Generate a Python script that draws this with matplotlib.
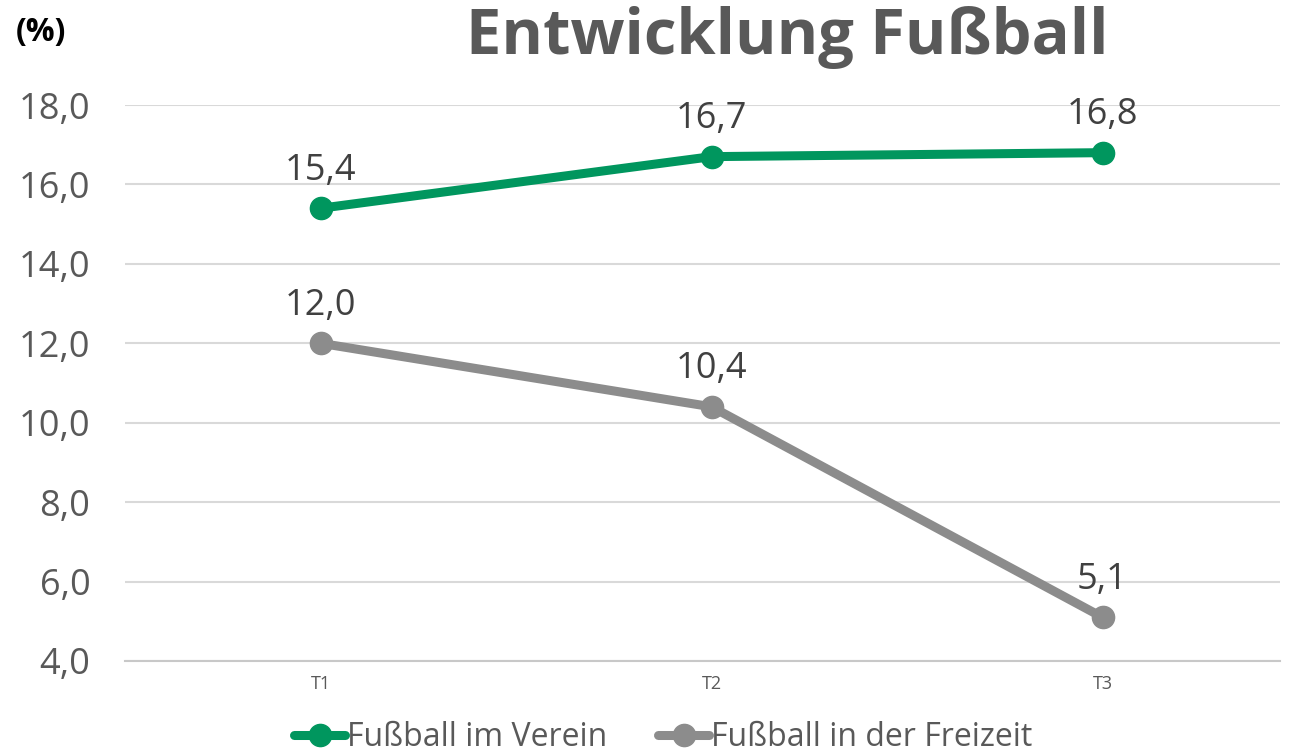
import matplotlib.pyplot as plt

# data
kategorien = ['T1', 'T2', 'T3']
verein = [15.4, 16.7, 16.8]
freizeit = [12.0, 10.4, 5.1]
y_ticks = [4, 6, 8, 10, 12, 14, 16, 18]

gruen = '#00965E'
grau = '#8C8C8C'
text_grau = '#595959'

plt.rcParams['font.family'] = ['Open Sans', 'DejaVu Sans']

fig = plt.figure(figsize=(12.93, 7.56), dpi=100)
ax = fig.add_axes([0.0967, 0.1257, 0.8933, 0.7354])

x = range(len(kategorien))
ax.plot(x, verein, color=gruen, lw=6.5, marker='o', ms=16, label='Fußball im Verein',
        solid_capstyle='round', zorder=3)
ax.plot(x, freizeit, color=grau, lw=6.5, marker='o', ms=16, label='Fußball in der Freizeit',
        solid_capstyle='round', zorder=3)

# data labels
for serie in (verein, freizeit):
    for i, v in enumerate(serie):
        ax.annotate(f'{v:.1f}'.replace('.', ','), (i, v), xytext=(0, 27), textcoords='offset points',
                    ha='center', va='center', fontsize=26, color='#404040')

ax.set_xlim(-0.5, 2.454)
ax.set_ylim(4, 18)
ax.set_xticks(list(x))
ax.set_xticklabels(kategorien, fontsize=13, color=text_grau)
ax.set_yticks(y_ticks)
ax.set_yticklabels([f'{t:.1f}'.replace('.', ',') for t in y_ticks], fontsize=26, color=text_grau)
ax.tick_params(length=0, pad=10)
ax.tick_params(axis='y', pad=25)

ax.grid(axis='y', color='#D9D9D9', lw=1.5)
ax.set_axisbelow(True)
for s in ['top', 'right', 'left']:
    ax.spines[s].set_visible(False)
ax.spines['bottom'].set_color('#C8C8C8')
ax.spines['bottom'].set_linewidth(1.5)
ax.spines['bottom'].set_zorder(1)

fig.text(0.609, 0.95, 'Entwicklung Fußball', ha='center', va='center',
         fontsize=45.5, fontweight='bold', color=text_grau)
fig.text(0.012, 0.957, '(%)', ha='left', va='center', fontsize=23, fontweight='bold', color='black')

leg = fig.legend(loc='lower center', bbox_to_anchor=(0.513, -0.035), ncol=2, frameon=False,
                 fontsize=23, handlelength=1.6, handletextpad=0.05, columnspacing=1.6)
for t in leg.get_texts():
    t.set_color(text_grau)

plt.savefig('out.png', dpi=100)
